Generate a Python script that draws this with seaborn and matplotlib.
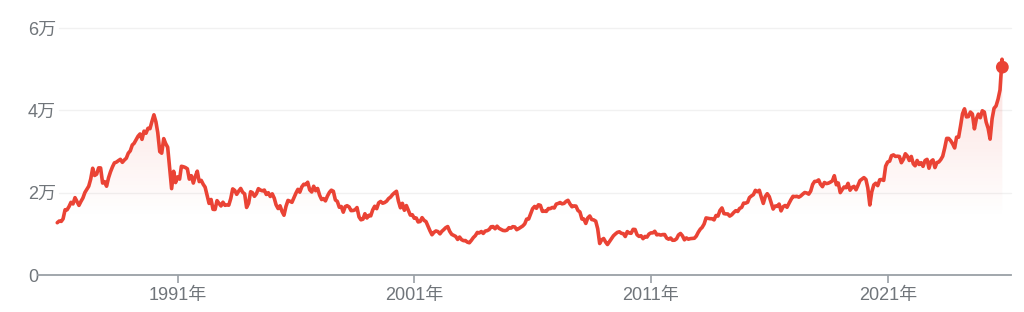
import numpy as np
import pandas as pd
import matplotlib
matplotlib.use("Agg")
import matplotlib.pyplot as plt
import matplotlib.dates as mdates
from matplotlib.path import Path
from matplotlib.patches import PathPatch
import seaborn as sns

# ---- data (month-end levels, Nov 1985 .. Oct 2025) ----
nikkei_1985_1994 = [
    12700, 13113,
    13024, 13640, 15860, 15825, 16630, 17654, 17260, 18787, 17852, 16910, 17852, 18701,
    20048, 20767, 21567, 23275, 25929, 24176, 24488, 26029, 26011, 22329, 22687, 21564,
    23622, 25034, 26260, 27234, 27418, 27769, 28098, 27366, 27924, 28377, 29579, 30159,
    31581, 31985, 32839, 33713, 34267, 32949, 34954, 34431, 35637, 35549, 37269, 38916,
    37189, 34592, 29980, 29585, 33131, 31940, 31036, 25978, 20984, 25194, 22455, 23849,
    23293, 26409, 26292, 26111, 25790, 23291, 24121, 22336, 23916, 25223, 22688, 22984,
    22023, 21339, 19346, 17391, 18348, 15952, 15910, 18061, 17399, 16767, 17684, 16925,
    17024, 16953, 18591, 20919, 20552, 19590, 20380, 21027, 20106, 19703, 16408, 17417,
    20229, 19997, 19112, 19725, 20974, 20644, 20449, 20628, 19564, 19990, 19076, 19723,
]
nikkei_1995_2004 = [
    18650, 17053, 16140, 16807, 15437, 14517, 16678, 18117, 17913, 17655, 18744, 19868,
    20813, 20125, 21407, 22041, 21956, 22531, 20692, 20167, 21556, 20466, 21020, 19361,
    18330, 18557, 18003, 19151, 20068, 20605, 20331, 18229, 17888, 16459, 16636, 15259,
    16628, 16832, 16527, 15641, 15671, 15830, 16379, 14108, 13406, 13565, 14883, 13842,
    14499, 14367, 15837, 16701, 16112, 17530, 17862, 17437, 17605, 17942, 18558, 18934,
    19540, 19960, 20337, 17974, 16332, 17411, 15727, 16861, 15747, 14540, 14649, 13786,
    13844, 12884, 12999, 13934, 13262, 12969, 11860, 10713, 9775, 10366, 10697, 10543,
    9998, 10588, 11025, 11493, 11764, 10622, 9878, 9619, 9383, 8640, 9216, 8579,
    8340, 8363, 7973, 7831, 8425, 9083, 9563, 10344, 10219, 10560, 10101, 10677,
    10784, 11042, 11715, 11762, 11236, 11858, 11326, 11082, 10824, 10771, 10899, 11489,
]
nikkei_2005_2014 = [
    11388, 11741, 11669, 11009, 11277, 11584, 11900, 12414, 13574, 13607, 14872, 16111,
    16650, 16205, 17060, 16906, 15467, 15505, 15457, 16141, 16128, 16399, 16274, 17226,
    17383, 17604, 17288, 17400, 17876, 18138, 17248, 16569, 16786, 16738, 15681, 15308,
    13592, 13603, 12526, 13850, 14338, 13481, 13377, 13073, 11260, 7650, 8512, 8860,
    7994, 7400, 8110, 8828, 9523, 9958, 10357, 10493, 10133, 10035, 9346, 10546,
    10198, 10126, 11090, 11057, 9769, 9383, 9537, 8824, 9369, 9202, 9937, 10229,
    10238, 10624, 9755, 9850, 9694, 9816, 9833, 8955, 8700, 8988, 8435, 8455,
    8803, 9723, 10084, 9521, 8543, 9007, 8695, 8840, 8870, 8928, 9446, 10395,
    11139, 11559, 12398, 13861, 13775, 13677, 13668, 13389, 14456, 14328, 15662, 16291,
    14915, 14841, 14828, 14304, 14632, 15162, 15621, 15425, 16174, 16414, 17460, 17451,
]
nikkei_2015_2025 = [
    17674, 18798, 19207, 19520, 20563, 20236, 20585, 18890, 17388, 19083, 19747, 19034,
    17518, 16027, 16759, 16666, 17235, 15576, 16569, 16887, 16450, 17425, 18308, 19114,
    19041, 19119, 18909, 19197, 19651, 20033, 19925, 19646, 20356, 22012, 22725, 22765,
    23098, 22068, 21454, 22468, 22202, 22305, 22554, 22865, 24120, 21920, 22351, 20015,
    20773, 21385, 21206, 22259, 20601, 21276, 21522, 20704, 21756, 22927, 23294, 23657,
    23205, 21143, 17000, 20194, 21878, 22288, 21710, 23140, 23185, 22977, 26434, 27444,
    27663, 28966, 29179, 28813, 28860, 28792, 27284, 28090, 29453, 28893, 27822, 28792,
    27002, 26527, 27821, 26848, 27280, 26393, 27802, 28092, 25937, 27587, 27969, 26095,
    27327, 27446, 28041, 28856, 30888, 33189, 33172, 32619, 31858, 30859, 33487, 33464,
    36287, 39166, 40369, 38406, 38488, 39583, 39102, 35500, 37920, 39081, 38208, 39895,
    39572, 37156, 35618, 33000, 37965, 40487, 41070, 42718, 44932, 52411,
]
last_date = "2025-11-05"
last_value = 50500

tick_years = [1991, 2001, 2011, 2021]
tick_labels = ["1991年", "2001年", "2011年", "2021年"]
y_ticks = [0, 20000, 40000, 60000]
y_labels = ["0", "2万", "4万", "6万"]

RED = "#ea4335"
GRAY_TXT = "#70757a"
AXIS_GRAY = "#9aa0a6"

monthly = nikkei_1985_1994 + nikkei_1995_2004 + nikkei_2005_2014 + nikkei_2015_2025
dates = list(pd.date_range("1985-11-30", periods=len(monthly), freq=pd.offsets.MonthEnd()))
dates.append(pd.Timestamp(last_date))
values = monthly + [last_value]
df = pd.DataFrame({"date": dates, "value": values})

sns.set_theme(style="white")
plt.rcParams["font.family"] = ["Liberation Sans", "Noto Sans CJK SC"]

W, H = 1024, 312
fig = plt.figure(figsize=(W / 100, H / 100), dpi=100)
fig.patch.set_facecolor("white")
ax_left, ax_right, ax_top, ax_bot = 38, 1010.7, 28, 275
ax = fig.add_axes([ax_left / W, 1 - ax_bot / H, (ax_right - ax_left) / W, (ax_bot - ax_top) / H])
ax.set_facecolor("white")

# gradient fill under line
xnum = mdates.date2num(df["date"])
vals = df["value"].to_numpy(dtype=float)
verts = [(xnum[0], 0)] + list(zip(xnum, vals)) + [(xnum[-1], 0)]
patch = PathPatch(Path(verts), facecolor="none", edgecolor="none", transform=ax.transData)
ax.add_patch(patch)
ny = 300
yy = np.linspace(0, 60000, ny)
alpha = np.clip((yy - 14000) / (52000 - 14000), 0, 1) * 0.17
img = np.zeros((ny, 1, 4))
img[..., :3] = matplotlib.colors.to_rgb(RED)
img[:, 0, 3] = alpha
im = ax.imshow(img, extent=[xnum[0], xnum[-1], 0, 60000], origin="lower",
               aspect="auto", interpolation="bilinear", zorder=1)
im.set_clip_path(patch)

sns.lineplot(data=df, x="date", y="value", color=RED, linewidth=2.6, ax=ax, zorder=3)
sns.scatterplot(data=df.tail(1), x="date", y="value", color=RED, s=85,
                edgecolor="none", ax=ax, zorder=4)

# gridlines
for v in y_ticks[1:]:
    ax.axhline(v, xmin=(59 - ax_left) / (ax_right - ax_left), xmax=1,
               color="#f1f1f1", lw=1.0, zorder=0, clip_on=False)

ax.set_xlim(pd.Timestamp("1985-02-06"), pd.Timestamp("2026-03-14"))
ax.set_ylim(0, 60000)

ax.set_xticks([pd.Timestamp(f"{y}-01-01") for y in tick_years])
ax.set_xticklabels(tick_labels)
ax.set_yticks(y_ticks)
ax.set_yticklabels(y_labels)
for lab in ax.get_yticklabels():
    lab.set_horizontalalignment("left")

ax.tick_params(axis="x", bottom=True, length=6, width=1.2, color=AXIS_GRAY,
               direction="out", pad=2.5, labelsize=13, labelcolor=GRAY_TXT)
ax.tick_params(axis="y", left=False, length=0, pad=7.2, labelsize=13, labelcolor=GRAY_TXT)

for s in ["left", "top", "right"]:
    ax.spines[s].set_visible(False)
ax.spines["bottom"].set_color(AXIS_GRAY)
ax.spines["bottom"].set_linewidth(1.3)
ax.set_xlabel("")
ax.set_ylabel("")
ax.grid(False)

fig.savefig("out.png", dpi=100, facecolor="white")
